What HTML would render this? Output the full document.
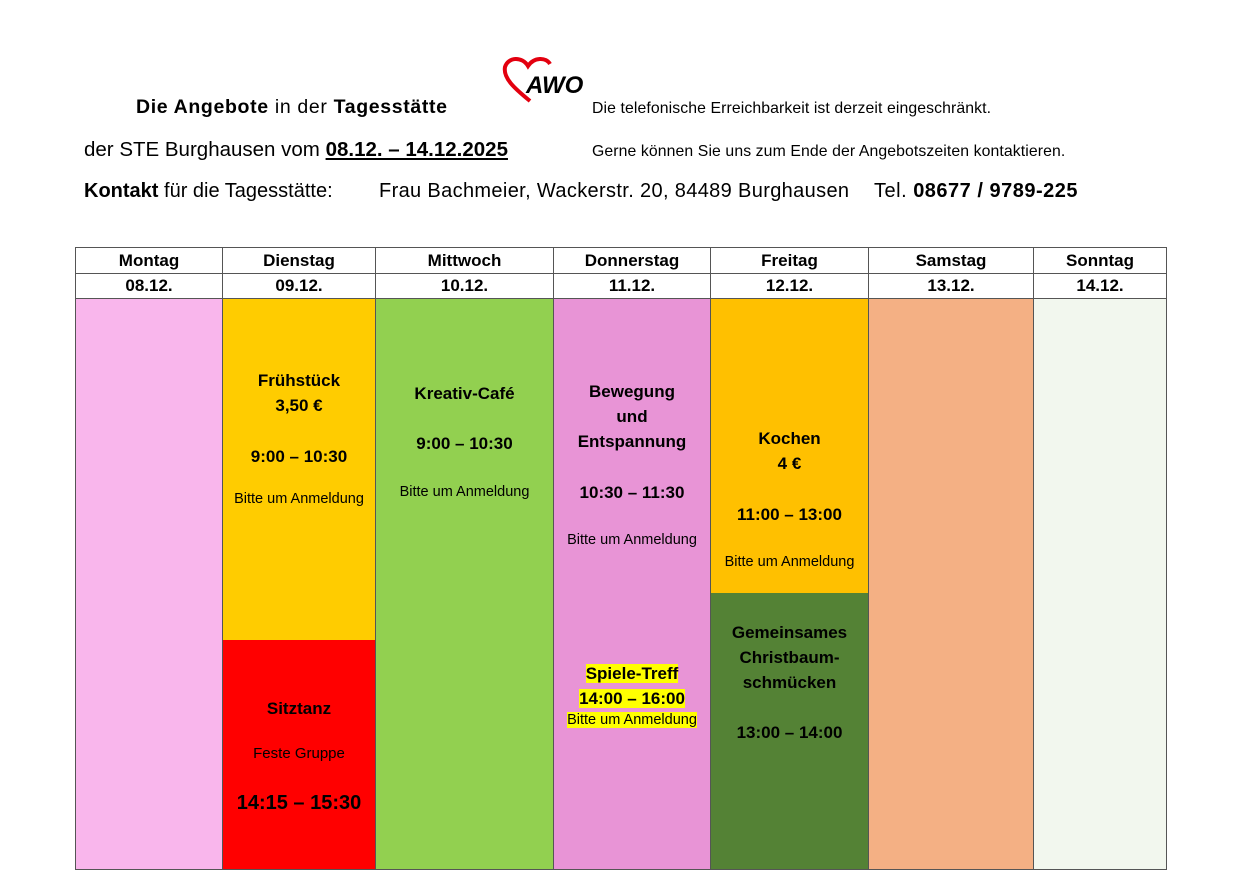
<!DOCTYPE html><html><head><meta charset="utf-8"><style>
body{margin:0;width:1243px;height:871px;background:#fff;position:relative;overflow:hidden;font-family:"Liberation Sans",sans-serif;color:#000}
.a{position:absolute;white-space:nowrap}
.c{position:absolute;box-sizing:border-box;border-right:1px solid #555;text-align:center;font-weight:bold;font-size:17px}
.h{position:absolute;box-sizing:border-box;border:1px solid #555;border-left:none;text-align:center;font-weight:bold;font-size:17px;line-height:25px}
.t{position:absolute;left:0;right:0;text-align:center;white-space:nowrap}
.s{font-size:14.5px;font-weight:normal}
</style></head><body>
<div class="a" style="left:136px;top:96px;font-size:19.5px;letter-spacing:0.65px"><b>Die Angebote</b> in der <b>Tagesstätte</b></div>
<div class="a" style="left:84px;top:138px;font-size:20.5px"><b><span style="font-weight:normal">der STE Burghausen vom </span><u>08.12. – 14.12.2025</u></b></div>
<div class="a" style="left:84px;top:180px;font-size:20px"><b>Kontakt</b> für die Tagesstätte:</div>
<div class="a" style="left:379px;top:180px;font-size:20px;letter-spacing:0.35px">Frau Bachmeier, Wackerstr. 20, 84489 Burghausen</div>
<div class="a" style="left:874px;top:180px;font-size:20px;letter-spacing:0.5px">Tel. <b>08677 / 9789-225</b></div>
<div class="a" style="left:592px;top:100px;font-size:15.8px;letter-spacing:0.1px">Die telefonische Erreichbarkeit ist derzeit eingeschränkt.</div>
<div class="a" style="left:592px;top:143px;font-size:15.8px;letter-spacing:0.1px">Gerne können Sie uns zum Ende der Angebotszeiten kontaktieren.</div>
<svg class="a" style="left:500px;top:56px" width="90" height="50"><path d="M30 45 C14 32 3 22 5 11 C8 1 22 0 28 10 C34 1 46 1 50 8" fill="none" stroke="#e3000f" stroke-width="4"/><text x="26" y="37" font-family="Liberation Sans" font-weight="bold" font-style="italic" font-size="24">AWO</text></svg>
<div style="position:absolute;left:75px;top:247px;width:1px;height:623px;background:#555"></div>
<div style="position:absolute;left:75px;top:869px;width:1092px;height:1px;background:#555"></div>
<div class="h" style="left:76px;top:247px;width:147px">Montag</div>
<div class="h" style="left:223px;top:247px;width:153px">Dienstag</div>
<div class="h" style="left:376px;top:247px;width:178px">Mittwoch</div>
<div class="h" style="left:554px;top:247px;width:157px">Donnerstag</div>
<div class="h" style="left:711px;top:247px;width:158px">Freitag</div>
<div class="h" style="left:869px;top:247px;width:165px">Samstag</div>
<div class="h" style="left:1034px;top:247px;width:133px">Sonntag</div>
<div class="h" style="left:76px;top:273px;width:147px;border-top:none">08.12.</div>
<div class="h" style="left:223px;top:273px;width:153px;border-top:none">09.12.</div>
<div class="h" style="left:376px;top:273px;width:178px;border-top:none">10.12.</div>
<div class="h" style="left:554px;top:273px;width:157px;border-top:none">11.12.</div>
<div class="h" style="left:711px;top:273px;width:158px;border-top:none">12.12.</div>
<div class="h" style="left:869px;top:273px;width:165px;border-top:none">13.12.</div>
<div class="h" style="left:1034px;top:273px;width:133px;border-top:none">14.12.</div>
<div class="c" style="left:76px;top:299px;width:147px;height:570px;background:#f9b6ec"></div>
<div class="c" style="left:223px;top:299px;width:153px;height:341px;background:#ffcc00">
<div class="t" style="top:72px">Frühstück</div><div class="t" style="top:97px">3,50 €</div><div class="t" style="top:148px">9:00 – 10:30</div><div class="t s" style="top:192px">Bitte um Anmeldung</div></div>
<div class="c" style="left:223px;top:640px;width:153px;height:229px;background:#ff0000">
<div class="t" style="top:59px">Sitztanz</div><div class="t s" style="top:105px;font-size:15px">Feste Gruppe</div><div class="t" style="top:152px;font-size:20px">14:15 – 15:30</div></div>
<div class="c" style="left:376px;top:299px;width:178px;height:570px;background:#92d050">
<div class="t" style="top:85px">Kreativ-Café</div><div class="t" style="top:135px">9:00 – 10:30</div><div class="t s" style="top:185px">Bitte um Anmeldung</div></div>
<div class="c" style="left:554px;top:299px;width:157px;height:570px;background:#e894d6">
<div class="t" style="top:83px">Bewegung</div><div class="t" style="top:108px">und</div><div class="t" style="top:133px">Entspannung</div><div class="t" style="top:184px">10:30 – 11:30</div><div class="t s" style="top:233px">Bitte um Anmeldung</div>
<div class="t" style="top:365px"><span style="background:#ffff00">Spiele-Treff</span></div><div class="t" style="top:390px"><span style="background:#ffff00">14:00 – 16:00</span></div><div class="t s" style="top:413px"><span style="background:#ffff00">Bitte um Anmeldung</span></div></div>
<div class="c" style="left:711px;top:299px;width:158px;height:294px;background:#ffc000">
<div class="t" style="top:130px">Kochen</div><div class="t" style="top:155px">4 €</div><div class="t" style="top:206px">11:00 – 13:00</div><div class="t s" style="top:255px">Bitte um Anmeldung</div></div>
<div class="c" style="left:711px;top:593px;width:158px;height:276px;background:#548235">
<div class="t" style="top:30px">Gemeinsames</div><div class="t" style="top:55px">Christbaum-</div><div class="t" style="top:80px">schmücken</div><div class="t" style="top:130px">13:00 – 14:00</div></div>
<div class="c" style="left:869px;top:299px;width:165px;height:570px;background:#f4b084"></div>
<div class="c" style="left:1034px;top:299px;width:133px;height:570px;background:#f2f7ee"></div>
</body></html>
